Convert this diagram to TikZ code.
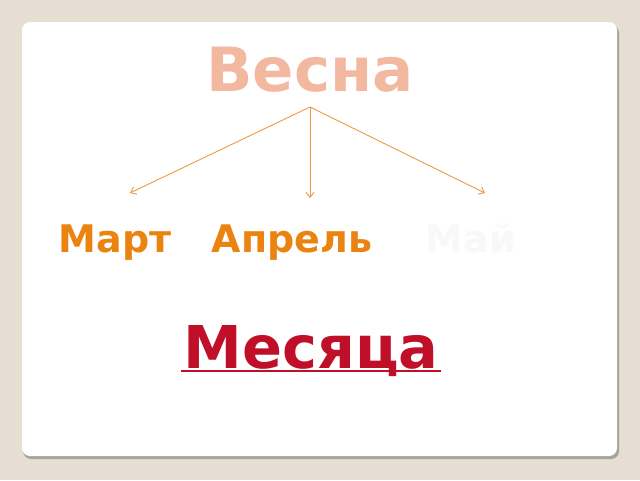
\documentclass[tikz,border=0pt]{standalone}
\usepackage{fontspec}
\setmainfont{DejaVu Sans}
\usepackage{tikz}
\usetikzlibrary{arrows.meta, positioning}
\usepackage{xcolor}
\definecolor{pagebg}{HTML}{E6DED3}
\definecolor{cardshadow}{HTML}{A8A49C}
\definecolor{springpink}{HTML}{F2B9A0}
\definecolor{monthorange}{HTML}{EA830F}
\definecolor{arrowline}{HTML}{EE9A45}
\definecolor{mayfaint}{HTML}{FAF8F6}
\definecolor{darkred}{HTML}{C00F28}
\tikzstyle{arrow} = [draw=arrowline, line width=0.9pt, -{Straight Barb[length=5pt,width=8pt]}]
\tikzstyle{month} = [anchor=base, inner sep=0pt, font=\bfseries\fontsize{38}{40}\selectfont]

\begin{document}
\begin{tikzpicture}[x=1pt, y=-1pt]
    % Background and card
    \fill[pagebg] (0,0) rectangle (640,480);
    \useasboundingbox (0,0) rectangle (640,480);
    \fill[cardshadow, rounded corners=8pt] (23,25) rectangle (619,459);
    \fill[white, rounded corners=8pt] (22,22) rectangle (617,456);

    % Title
    \node[anchor=base, inner sep=0pt, text=springpink, font=\bfseries\fontsize{61}{64}\selectfont] (spring) at (310,91) {Весна};

    % Months
    \node[month, text=monthorange] (march) at (115,252) {Март};
    \node[month, text=monthorange] (april) at (292,252) {Апрель};
    \node[month, text=mayfaint] (may) at (471,252) {Май};

    % Arrows
    \coordinate (fork) at (310,107);
    \coordinate (marchend) at (130,193);
    \coordinate (aprilend) at (310,198);
    \coordinate (mayend) at (485,193);
    \draw[arrow] (fork) -- (marchend);
    \draw[arrow] (fork) -- (aprilend);
    \draw[arrow] (fork) -- (mayend);

    % Bottom label
    \node[anchor=base, inner sep=0pt, text=darkred, font=\bfseries\fontsize{59}{62}\selectfont] (months) at (311,368) {Месяца};
    \draw[darkred, line width=2pt] ([xshift=-2pt,yshift=-3pt]months.base west) -- ([xshift=2pt,yshift=-3pt]months.base east);
\end{tikzpicture}
\end{document}
